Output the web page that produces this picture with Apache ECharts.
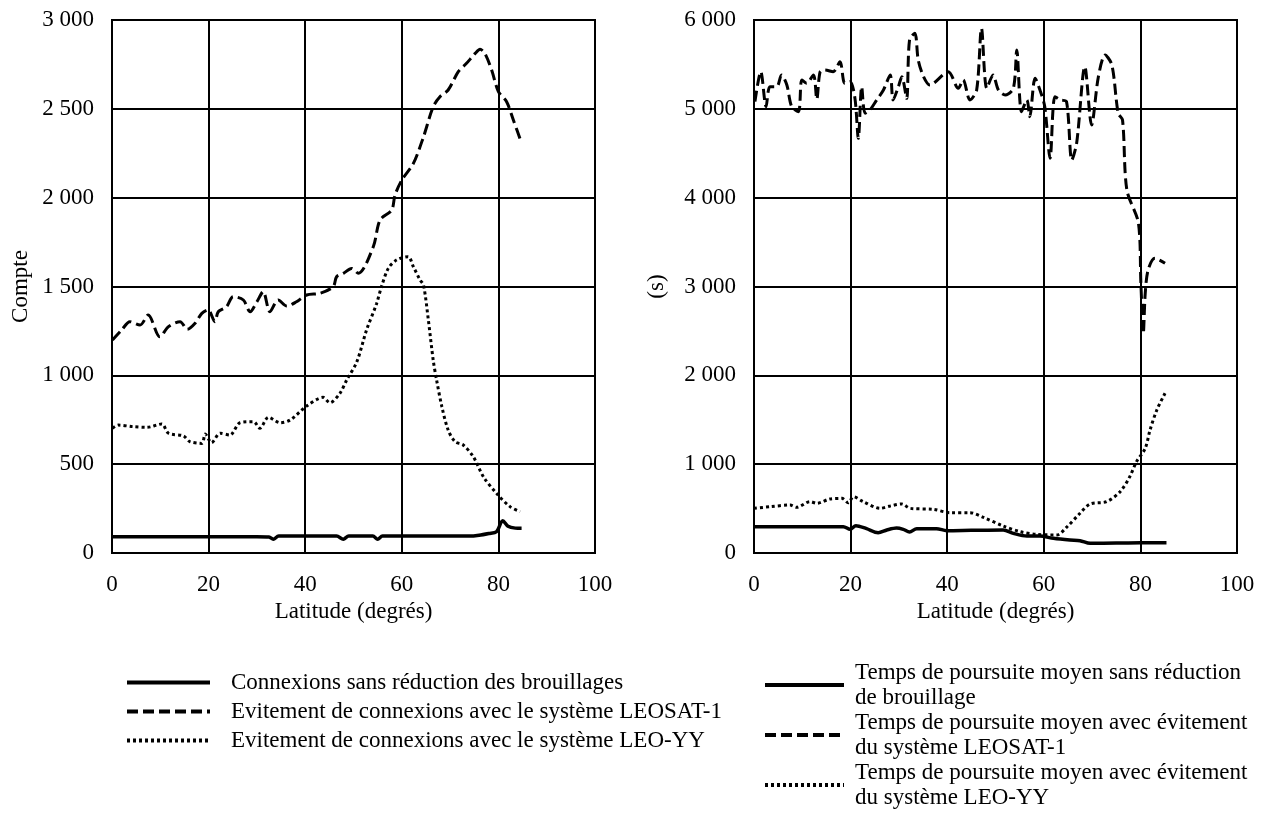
<!DOCTYPE html>
<html>
<head>
<meta charset="utf-8">
<script src="https://cdn.jsdelivr.net/npm/echarts@6/dist/echarts.min.js"></script>
<style>html,body{margin:0;padding:0;background:#fff;}#c{width:1274px;height:830px;}</style>
</head>
<body>
<div id="c"></div>
<script>
// ---- Tick labels / axes ----
const xTicks = [0, 20, 40, 60, 80, 100];
const leftYTicks = [0, 500, 1000, 1500, 2000, 2500, 3000];
const rightYTicks = [0, 1000, 2000, 3000, 4000, 5000, 6000];
const xAxisName = 'Latitude (degrés)';
const leftYName = 'Compte';
const rightYName = '(s)';

// ---- Left chart series names ----
const leftNames = [
  'Connexions sans réduction des brouillages',
  'Evitement de connexions avec le système LEOSAT-1',
  'Evitement de connexions avec le système LEO-YY'
];
// ---- Right chart series names ----
const rightNames = [
  'Temps de poursuite moyen sans réduction\nde brouillage',
  'Temps de poursuite moyen avec évitement\ndu système LEOSAT-1',
  'Temps de poursuite moyen avec évitement\ndu système LEO-YY'
];

// Left: connexions sans réduction
const lSolidLat = [0, 10, 20, 30, 32.5, 33.4, 34.5, 40, 46.5, 47.9, 49, 54, 55, 56, 65, 74, 76, 78, 79.6, 80.9, 82, 83.5, 84.8];
const lSolidVal = [92, 92, 92, 92, 90, 77, 95, 95, 95, 78, 95, 95, 78, 95, 95, 95, 100, 110, 120, 182, 150, 140, 139];

// Left: évitement LEOSAT-1
const lDashLat = [0.1, 2.0, 3.7, 5.8, 7.5, 9.9, 11.7, 14.1, 15.6, 17.2, 18.6, 19.9, 21.3, 22.0, 23.7, 25.1, 27.2, 28.6, 30.0, 31.3, 32.7, 34.4, 36.2, 38.2, 40.3, 43.1, 45.8, 46.5, 47.9, 49.6, 51.0, 54.1, 55.5, 57.9, 58.6, 60.0, 62.4, 64.5, 66.5, 67.9, 69.6, 71.7, 73.4, 75.2, 76.2, 77.2, 78.6, 80.0, 81.7, 83.1, 84.8];
const lDashVal = [1199, 1255, 1302, 1283, 1340, 1217, 1274, 1302, 1259, 1293, 1349, 1368, 1302, 1358, 1386, 1443, 1424, 1358, 1414, 1471, 1358, 1424, 1390, 1414, 1452, 1462, 1499, 1555, 1574, 1602, 1574, 1724, 1874, 1930, 2015, 2099, 2193, 2343, 2512, 2568, 2606, 2709, 2756, 2812, 2835, 2812, 2718, 2597, 2540, 2437, 2306];

// Left: évitement LEO-YY
const lDotLat = [0.1, 1.3, 4.4, 7.2, 10.3, 11.7, 14.8, 16.1, 18.6, 19.3, 20.6, 22.4, 24.4, 26.5, 29.3, 30.6, 32.4, 34.8, 36.9, 40.3, 43.7, 45.1, 47.2, 48.6, 50.7, 52.7, 54.8, 55.8, 57.2, 58.9, 61.3, 62.4, 63.8, 64.5, 65.5, 66.5, 67.2, 68.3, 69.6, 71.0, 72.7, 74.8, 76.9, 79.6, 82.4, 84.5];
const lDotVal = [702, 720, 711, 707, 726, 674, 659, 627, 617, 670, 621, 674, 664, 733, 739, 702, 764, 733, 749, 827, 876, 846, 899, 974, 1077, 1255, 1405, 1500, 1602, 1649, 1668, 1611, 1536, 1508, 1311, 1086, 974, 823, 692, 627, 608, 542, 429, 336, 261, 233];

// Right: temps de poursuite sans réduction
const rSolidLat = [0, 10, 18.5, 19.9, 21.1, 23.3, 25.7, 27.5, 29.5, 30.9, 32.2, 33.7, 37.8, 39.9, 45, 51.6, 53.7, 56.5, 59.2, 62.0, 65.4, 67.5, 69.6, 75, 80, 85.4];
const rSolidVal = [296, 296, 296, 266, 308, 274, 229, 259, 281, 266, 236, 274, 274, 251, 255, 259, 221, 191, 191, 165, 146, 139, 109, 112, 114, 116];

// Right: temps de poursuite avec évitement LEOSAT-1
const rDashLat = [0.2, 1.4, 2.5, 3.3, 4.7, 5.7, 6.8, 7.8, 9.2, 9.9, 10.9, 12.3, 13.0, 13.7, 14.7, 16.4, 17.8, 18.8, 19.9, 20.9, 21.6, 22.3, 23.0, 24.0, 25.4, 26.8, 28.2, 28.8, 29.9, 30.6, 31.6, 32.2, 33.3, 34.0, 35.1, 36.4, 40.2, 42.3, 43.3, 44.7, 46.1, 47.1, 48.2, 49.5, 50.6, 52.0, 53.7, 54.4, 55.4, 56.5, 57.1, 58.2, 59.2, 60.2, 61.3, 62.3, 63.4, 64.7, 65.8, 66.8, 68.5, 69.9, 71.3, 72.7, 74.1, 75.4, 76.3, 77.2, 79.6, 80.1, 80.6, 81.0, 81.6, 83.0, 85.1];
const rDashVal = [5081, 5418, 5024, 5249, 5249, 5381, 5268, 5024, 4968, 5325, 5287, 5381, 5107, 5418, 5437, 5418, 5531, 5287, 5306, 5118, 4668, 5249, 4950, 4987, 5100, 5212, 5381, 5100, 5249, 5362, 5118, 5775, 5850, 5550, 5362, 5268, 5418, 5231, 5325, 5100, 5212, 5906, 5231, 5381, 5212, 5156, 5231, 5662, 4968, 5100, 4912, 5343, 5212, 5024, 4443, 5137, 5100, 5081, 4424, 4612, 5474, 4818, 5362, 5606, 5493, 4950, 4874, 4086, 3711, 3036, 2473, 2923, 3186, 3317, 3261];

// Right: temps de poursuite avec évitement LEO-YY
const rDotLat = [0, 3.3, 7.5, 8.8, 11.6, 13.0, 15.7, 18.2, 19.5, 20.6, 22.6, 26.1, 28.2, 30.6, 32.3, 37.1, 40.6, 44.7, 47.5, 51.6, 55.1, 58.5, 62.7, 64.7, 67.5, 69.6, 73.0, 75.8, 77.8, 79.2, 81.0, 82.0, 83.4, 85.1];
const rDotVal = [503, 521, 540, 514, 578, 559, 608, 615, 566, 634, 578, 503, 529, 552, 503, 492, 454, 454, 401, 304, 240, 210, 203, 289, 447, 552, 578, 690, 859, 1028, 1178, 1385, 1610, 1798];

function pairs(xs, ys) { return xs.map((x, i) => [x, ys[i]]); }
function fmt(v) { return String(v).replace(/\B(?=(\d{3})+(?!\d))/g, ' '); }

const FONT = '"Liberation Serif", "Times New Roman", serif';
const txt = { fontFamily: FONT, fontSize: 23, color: '#000' };
const gridLine = { show: true, lineStyle: { color: '#000', width: 2 } };

function xAx(gi) {
  return {
    gridIndex: gi, type: 'value', min: xTicks[0], max: xTicks[xTicks.length - 1], interval: xTicks[1] - xTicks[0],
    name: xAxisName, nameLocation: 'middle', nameGap: 46, nameTextStyle: txt,
    axisLine: { show: true, lineStyle: { color: '#000', width: 2 } },
    axisTick: { show: false }, splitLine: gridLine,
    axisLabel: Object.assign({ margin: 20 }, txt)
  };
}
function yAx(gi, ticks, name, gap) {
  return {
    gridIndex: gi, type: 'value', min: ticks[0], max: ticks[ticks.length - 1], interval: ticks[1] - ticks[0],
    name: name, nameLocation: 'middle', nameGap: gap, nameTextStyle: txt,
    axisLine: { show: true, lineStyle: { color: '#000', width: 2 } },
    axisTick: { show: false }, splitLine: gridLine,
    axisLabel: Object.assign({ margin: 18, formatter: fmt }, txt)
  };
}
const styles = [
  { type: 'solid', width: 3.5 },
  { type: [11, 5], width: 3 },
  { type: [3, 3], width: 3 }
];
function ser(name, data, gi, si) {
  return {
    name: name, type: 'line', xAxisIndex: gi, yAxisIndex: gi, data: data,
    showSymbol: false, symbol: 'none', smooth: 0.3,
    lineStyle: Object.assign({ color: '#000' }, styles[si]),
    itemStyle: { color: '#000' }, z: 5
  };
}

const chart = echarts.init(document.getElementById('c'), null, { renderer: 'canvas' });
chart.setOption({
  animation: false,
  backgroundColor: '#fff',
  grid: [
    { left: 112, top: 20, width: 483, height: 533, show: true, borderColor: '#000', borderWidth: 2 },
    { left: 754, top: 20, width: 483, height: 533, show: true, borderColor: '#000', borderWidth: 2 }
  ],
  xAxis: [xAx(0), xAx(1)],
  yAxis: [yAx(0, leftYTicks, leftYName, 80), yAx(1, rightYTicks, rightYName, 86)],
  legend: [
    {
      data: leftNames, orient: 'vertical', left: 125, top: 670, padding: 0,
      itemWidth: 83, itemHeight: 14, itemGap: 4,
      itemStyle: { opacity: 0 }, lineStyle: { width: 4 },
      textStyle: Object.assign({ lineHeight: 25, padding: [0, 0, 0, 16] }, txt), selectedMode: false
    },
    {
      data: rightNames, orient: 'vertical', left: 763, top: 660, padding: 0,
      itemWidth: 79, itemHeight: 14, itemGap: 0,
      itemStyle: { opacity: 0 }, lineStyle: { width: 4 },
      textStyle: Object.assign({ lineHeight: 25, padding: [0, 0, 0, 6] }, txt), selectedMode: false
    }
  ],
  series: [
    ser(leftNames[0], pairs(lSolidLat, lSolidVal), 0, 0),
    ser(leftNames[1], pairs(lDashLat, lDashVal), 0, 1),
    ser(leftNames[2], pairs(lDotLat, lDotVal), 0, 2),
    ser(rightNames[0], pairs(rSolidLat, rSolidVal), 1, 0),
    ser(rightNames[1], pairs(rDashLat, rDashVal), 1, 1),
    ser(rightNames[2], pairs(rDotLat, rDotVal), 1, 2)
  ]
});
</script>
</body>
</html>
